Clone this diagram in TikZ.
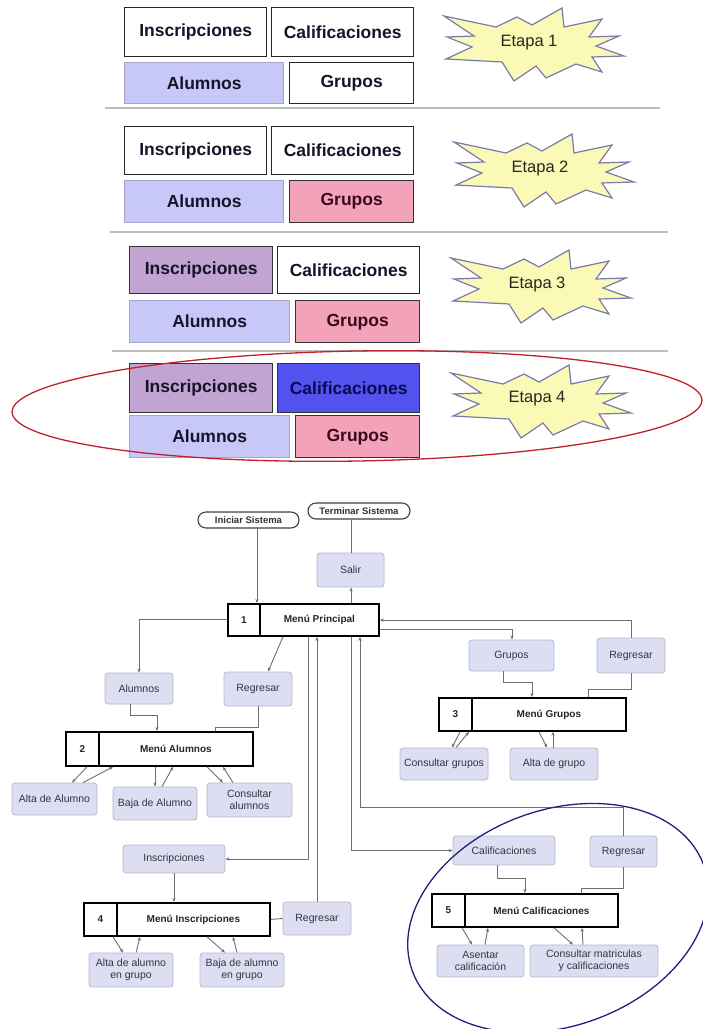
\documentclass[tikz,border=0pt]{standalone}
\usepackage{fontspec}
\setmainfont{Liberation Sans}
\usetikzlibrary{arrows.meta}
\definecolor{lav}{HTML}{C8C8F8}
\definecolor{lavline}{HTML}{A4A4CC}
\definecolor{pinkf}{HTML}{F4A2BA}
\definecolor{pinktext}{HTML}{3A0A1C}
\definecolor{purpf}{HTML}{C2A4D2}
\definecolor{bluef}{HTML}{5252EE}
\definecolor{bluetext}{HTML}{0A0A50}
\definecolor{navytext}{HTML}{14142A}
\definecolor{burstfill}{HTML}{FAFAB6}
\definecolor{burstline}{HTML}{7A7AAA}
\definecolor{sepc}{HTML}{BDBDBD}
\definecolor{redc}{HTML}{C0202E}
\definecolor{bluec}{HTML}{20207E}
\definecolor{optfill}{HTML}{DEDEF2}
\definecolor{optline}{HTML}{B6B6CE}
\definecolor{opttext}{HTML}{34343F}
\definecolor{connc}{HTML}{6E6E6E}
\begin{document}
\begin{tikzpicture}[x=1pt,y=-1pt,
  tb/.style={line width=1.4pt, anchor=north west, inner sep=0pt, font=\bfseries\fontsize{17.5}{20}\selectfont},
  wb/.style={tb, draw=black!85, fill=white, text=navytext},
  ab/.style={tb, draw=lavline, fill=lav, text=navytext},
  gb/.style={tb, draw=black!80, fill=pinkf, text=pinktext},
  ib/.style={tb, draw=black!80, fill=purpf, text=navytext},
  cb/.style={tb, draw=black!80, fill=bluef, text=bluetext},
  etapa/.style={font=\fontsize{16.5}{20}\selectfont, text=black!85, inner sep=0pt},
  sepline/.style={draw=sepc, line width=1.2pt},
  starb/.pic={\draw[fill=burstfill, draw=burstline, line width=1.2pt, line join=miter]
    (-89,-28) -- (-37,-17) -- (-16,-27) -- (-1,-19) -- (29,-36) -- (31,-17) -- (69,-25) -- (56,-7)
    -- (86,-8) -- (63,2) -- (91,12) -- (59,13) -- (69,28) -- (43,20) -- (13,34) -- (3,22)
    -- (-19,37) -- (-31,18) -- (-87,15) -- (-61,3) -- (-86,-7) -- (-59,-8) -- cycle;},
  opt/.style={draw=optline, fill=optfill, rounded corners=3pt, line width=0.8pt, inner sep=1pt,
    align=center, font=\fontsize{10.5}{12}\selectfont, text=opttext},
  pill/.style={draw=black!75, fill=white, rounded corners=8pt, line width=1.1pt, inner sep=0pt,
    font=\bfseries\fontsize{9.5}{11}\selectfont, text=black!80},
  mcell/.style={draw=black, line width=1.8pt, fill=white, inner sep=0pt, anchor=north west,
    minimum height=32pt, font=\bfseries\fontsize{10}{12}\selectfont, text=black!85},
  conn/.style={draw=connc, line width=0.9pt},
  arr/.style={conn, -{Stealth[length=4pt,width=3.2pt]}},
  rarr/.style={conn, {Stealth[length=4pt,width=3.2pt]}-}
]
\useasboundingbox (0,0) rectangle (703,1029);

% ---------- top section ----------
% row 1
\node[wb, minimum width=142pt, minimum height=49pt] (i1) at (124,7) {Inscripciones};
\node[wb, minimum width=142pt, minimum height=49pt] (c1) at (271,7) {Calificaciones};
\node[ab, minimum width=159pt, minimum height=41pt] (a1) at (124,62) {Alumnos};
\node[wb, minimum width=124pt, minimum height=41pt] (g1) at (289,62) {Grupos};
\pic at (533,44) {starb};
\node[etapa] (e1) at (529,43) {Etapa 1};
\draw[sepline] (105,108) -- (660,108);
% row 2
\node[wb, minimum width=142pt, minimum height=48pt] (i2) at (124,126) {Inscripciones};
\node[wb, minimum width=142pt, minimum height=48pt] (c2) at (271,126) {Calificaciones};
\node[ab, minimum width=159pt, minimum height=42pt] (a2) at (124,180) {Alumnos};
\node[gb, minimum width=124pt, minimum height=42pt] (g2) at (289,180) {Grupos};
\pic at (543,170) {starb};
\node[etapa] (e2) at (540,168) {Etapa 2};
\draw[sepline] (110,232) -- (668,232);
% row 3
\node[ib, minimum width=143pt, minimum height=47pt] (i3) at (129,246) {Inscripciones};
\node[wb, minimum width=142pt, minimum height=47pt] (c3) at (277,246) {Calificaciones};
\node[ab, minimum width=160pt, minimum height=42pt] (a3) at (129,300) {Alumnos};
\node[gb, minimum width=124pt, minimum height=42pt] (g3) at (295,300) {Grupos};
\pic at (540,286) {starb};
\node[etapa] (e3) at (537,284) {Etapa 3};
\draw[sepline] (112,351) -- (668,351);
% row 4
\node[ib, minimum width=143pt, minimum height=49pt] (i4) at (129,363) {Inscripciones};
\node[cb, minimum width=142pt, minimum height=49pt] (c4) at (277,363) {Calificaciones};
\node[ab, minimum width=160pt, minimum height=42pt] (a4) at (129,415) {Alumnos};
\node[gb, minimum width=124pt, minimum height=42pt] (g4) at (295,415) {Grupos};
\pic at (540,401) {starb};
\node[etapa] (e4) at (537,399) {Etapa 4};
\draw[draw=redc, line width=1.3pt, rotate around={1:(357,406)}] (357,406) ellipse [x radius=345pt, y radius=55pt];

% ---------- bottom section ----------
\node[pill, minimum width=101pt, minimum height=16pt] (ini) at (248.5,520) {Iniciar Sistema};
\node[pill, minimum width=102pt, minimum height=16pt] (ter) at (359,511) {Terminar Sistema};
\node[opt, minimum width=67pt, minimum height=34pt] (salir) at (350.5,570) {Salir};

\node[mcell, minimum width=32pt] (m1n) at (227,603) {1};
\node[mcell, minimum width=119pt] (m1) at (259,603) {Menú Principal};
\node[mcell, minimum width=33pt, minimum height=34pt] (m2n) at (65,731) {2};
\node[mcell, minimum width=154pt, minimum height=34pt] (m2) at (98,731) {Menú Alumnos};
\node[mcell, minimum width=33pt, minimum height=33pt] (m3n) at (438,697) {3};
\node[mcell, minimum width=154pt, minimum height=33pt] (m3) at (471,697) {Menú Grupos};
\node[mcell, minimum width=33pt, minimum height=33pt] (m4n) at (83,902) {4};
\node[mcell, minimum width=153pt, minimum height=33pt] (m4) at (116,902) {Menú Inscripciones};
\node[mcell, minimum width=33pt, minimum height=33pt] (m5n) at (431,893) {5};
\node[mcell, minimum width=153pt, minimum height=33pt] (m5) at (464,893) {Menú Calificaciones};

\node[opt, minimum width=68pt, minimum height=31pt] (alu) at (139,688.5) {Alumnos};
\node[opt, minimum width=68pt, minimum height=34pt] (rega) at (258,689) {Regresar};
\node[opt, minimum width=85pt, minimum height=32pt] (altaa) at (54.5,799) {Alta de Alumno};
\node[opt, minimum width=84pt, minimum height=33pt] (bajaa) at (155,803.5) {Baja de Alumno};
\node[opt, minimum width=85pt, minimum height=34pt] (consa) at (249.5,800) {Consultar\\alumnos};
\node[opt, minimum width=85pt, minimum height=31pt] (gru) at (511.5,655.5) {Grupos};
\node[opt, minimum width=68pt, minimum height=35pt] (regg) at (631,655.5) {Regresar};
\node[opt, minimum width=88pt, minimum height=32pt] (consg) at (444,764) {Consultar grupos};
\node[opt, minimum width=88pt, minimum height=32pt] (altag) at (554,764) {Alta de grupo};
\node[opt, minimum width=102pt, minimum height=28pt] (ins) at (174,859) {Inscripciones};
\node[opt, minimum width=68pt, minimum height=33pt] (regi) at (317,918.5) {Regresar};
\node[opt, minimum width=84pt, minimum height=34pt] (altai) at (131,970) {Alta de alumno\\en grupo};
\node[opt, minimum width=84pt, minimum height=34pt] (bajai) at (242,970) {Baja de alumno\\en grupo};
\node[opt, minimum width=102pt, minimum height=29pt] (cal) at (504,850.5) {Calificaciones};
\node[opt, minimum width=67pt, minimum height=31pt] (regc) at (623.5,851.5) {Regresar};
\node[opt, minimum width=87pt, minimum height=32pt] (asen) at (480.5,961) {Asentar\\calificación};
\node[opt, minimum width=128pt, minimum height=32pt] (consm) at (594,961) {Consultar matriculas\\y calificaciones};

% connectors of the main menu
\draw[arr] (ini.south -| 257,0) -- (m1n.north -| 257,0);
\draw[arr] (m1.north -| 351,0) -- (salir.south -| 351,0);
\draw[conn] (salir.north -| 351,0) -- (ter.south -| 351,0);
\draw[arr] (m1n.west) -| (alu.north);
\draw[arr] (m1.south -| 283,0) -- (rega.north -| 268,0);
\draw[arr] (m1.east |- 0,629) -| (gru.north -| 512,0);
\draw[arr] (regg.north) |- (m1.east |- 0,620);
\draw[arr] (m1.south -| 308,0) |- (ins.east);
\draw[arr] (regi.north) -- (regi.north |- m1.south);
\draw[arr] (m1.south -| 351,0) |- (cal.west);
\draw[arr] (regc.north) |- (360,807) -- (m1.south -| 360,0);

% menu 2
\draw[arr] (alu.south -| 130,0) |- (157,715) -- (m2.north -| 157,0);
\draw[conn] (m2.north -| 215,0) |- (258,727) -- (rega.south -| 258,0);
\draw[arr] (m2n.south -| 87,0) -- (altaa.north -| 72,0);
\draw[rarr] (m2.south -| 113,0) -- (altaa.north -| 83,0);
\draw[arr] (m2.south -| 155,0) -- (bajaa.north -| 155,0);
\draw[rarr] (m2.south -| 173,0) -- (bajaa.north -| 162,0);
\draw[arr] (m2.south -| 207,0) -- (consa.north -| 223,0);
\draw[rarr] (m2.south -| 223,0) -- (consa.north -| 233,0);

% menu 3
\draw[arr] (gru.south -| 503,0) |- (532,682) -- (m3.north -| 532,0);
\draw[conn] (m3.north -| 588,0) |- (631,689) -- (regg.south -| 631,0);
\draw[arr] (m3n.south -| 460,0) -- (consg.north -| 452,0);
\draw[rarr] (m3n.south -| 469,0) -- (consg.north -| 456,0);
\draw[arr] (m3.south -| 539,0) -- (altag.north -| 547,0);
\draw[rarr] (m3.south -| 553,0) -- (altag.north -| 553,0);

% menu 4
\draw[arr] (ins.south) -- (ins.south |- m4.north);
\draw[conn] (m4.east) -- (regi.west);
\draw[arr] (m4n.south -| 113,0) -- (altai.north -| 123,0);
\draw[rarr] (m4.south -| 140,0) -- (altai.north -| 136,0);
\draw[arr] (m4.south -| 207,0) -- (bajai.north -| 225,0);
\draw[rarr] (m4.south -| 233,0) -- (bajai.north -| 237,0);

% menu 5
\draw[arr] (cal.south -| 497,0) |- (525,878) -- (m5.north -| 525,0);
\draw[conn] (m5.north -| 581,0) |- (623,888) -- (regc.south -| 623,0);
\draw[arr] (m5n.south -| 462,0) -- (asen.north -| 472,0);
\draw[rarr] (m5.south -| 488,0) -- (asen.north -| 485,0);
\draw[arr] (m5.south -| 554,0) -- (consm.north -| 573,0);
\draw[rarr] (m5.south -| 582,0) -- (consm.north -| 583,0);

\draw[draw=bluec, line width=1.3pt, rotate around={20:(558,918)}] (558,918) ellipse [x radius=155pt, y radius=108pt];
\end{tikzpicture}
\end{document}
